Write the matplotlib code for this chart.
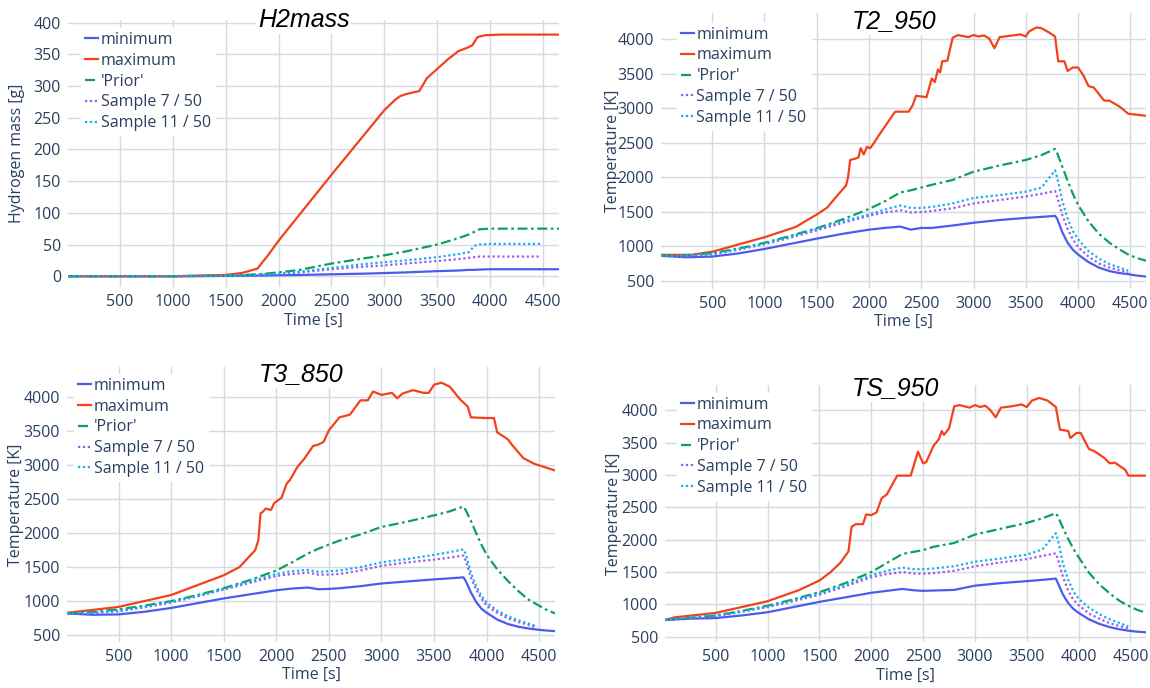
import matplotlib
matplotlib.use("Agg")
import matplotlib.pyplot as plt
import numpy as np

nan = np.nan

# shared time grid for the smooth series of the temperature panels
T_GRID = [10, 250, 500, 750, 1000, 1250, 1500, 1750, 2000, 2150, 2300, 2400, 2500, 2600, 2800, 3000,
          3250, 3500, 3650, 3780, 3800, 3850, 3900, 3950, 4000, 4100, 4200, 4300, 4400, 4480, 4560, 4650]

# --- H2mass ---
H_GRID = [10, 500, 1000, 1500, 1800, 2000, 2200, 2500, 2800, 3000, 3200, 3500, 3700, 3800, 3850, 3900,
          4000, 4200, 4480, 4650]
h2_min = [0, 0, 0, 0.5, 1, 1.5, 2, 3, 4, 5, 6, 8, 9, 10, 10, 10.5, 11, 11, 11, 11]
h2_prior = [0, 0, 0, 1, 3, 6, 10, 20, 28, 33, 39, 50, 60, 66, 70, 74, 75, 75, 75, 75]
h2_s11 = [0, 0, 0, 0.5, 2, 4, 7, 13, 19, 22, 25, 30, 35, 38, 48, 50, 51, 51, 51, nan]
h2_s7 = [0, 0, 0, 0.5, 2, 3, 6, 11, 15, 17, 20, 24, 27, 29, 30, 31, 31, 31, 31, nan]
h2_max_t = [10, 1000, 1500, 1650, 1800, 1900, 2000, 2500, 3000, 3100, 3150, 3200, 3330, 3400, 3500,
            3600, 3700, 3780, 3830, 3880, 3950, 4100, 4650]
h2_max = [0, 0, 2, 5, 12, 33, 56, 160, 262, 278, 284, 287, 292, 312, 327, 342, 355, 360, 364, 377, 380,
          381, 381]

# --- T2_950 ---
t2_min = [860, 840, 850, 895, 960, 1035, 1110, 1180, 1240, 1265, 1285, 1240, 1265, 1265, 1300, 1340,
          1380, 1410, 1425, 1440, 1400, 1200, 1050, 950, 880, 770, 690, 640, 610, 595, 575, 560]
t2_prior = [860, 870, 900, 965, 1050, 1150, 1260, 1390, 1540, 1650, 1780, 1810, 1850, 1890, 1960, 2080,
            2170, 2250, 2320, 2410, 2350, 2150, 1950, 1760, 1600, 1360, 1180, 1050, 950, 880, 830, 790]
t2_s11 = [860, 865, 890, 955, 1040, 1140, 1250, 1360, 1460, 1530, 1590, 1555, 1555, 1570, 1620, 1700,
          1740, 1790, 1850, 2100, 2000, 1650, 1400, 1220, 1100, 930, 820, 740, 690, 645, nan, nan]
t2_s7 = [860, 860, 880, 950, 1030, 1125, 1230, 1340, 1440, 1490, 1520, 1490, 1495, 1510, 1550, 1620,
         1670, 1720, 1760, 1800, 1720, 1450, 1250, 1100, 990, 850, 750, 690, 650, 615, nan, nan]
t2_max_t = [10, 300, 500, 1000, 1300, 1500, 1600, 1700, 1780, 1800, 1820, 1870, 1900, 1920, 1950, 1980,
            2010, 2040, 2100, 2200, 2250, 2380, 2420, 2450, 2550, 2600, 2630, 2660, 2680, 2700, 2750,
            2800, 2850, 2950, 3000, 3050, 3100, 3150, 3200, 3250, 3350, 3450, 3500, 3530, 3600, 3650,
            3720, 3780, 3810, 3870, 3900, 3950, 4000, 4050, 4100, 4150, 4250, 4300, 4400, 4480, 4650]
t2_max = [875, 875, 920, 1130, 1280, 1460, 1560, 1740, 1880, 2000, 2250, 2270, 2290, 2420, 2330, 2440,
          2420, 2480, 2620, 2840, 2950, 2950, 3050, 3180, 3160, 3430, 3380, 3560, 3520, 3680, 3690,
          4020, 4060, 4030, 4060, 4040, 4055, 4010, 3870, 4030, 4050, 4070, 4040, 4110, 4170, 4160,
          4100, 4040, 3680, 3680, 3540, 3590, 3590, 3480, 3320, 3300, 3110, 3110, 3020, 2920, 2890]

# --- T3_850 ---
t3_min = [820, 800, 805, 845, 900, 970, 1040, 1100, 1160, 1185, 1200, 1175, 1180, 1190, 1220, 1260,
          1290, 1320, 1335, 1350, 1300, 1130, 990, 890, 830, 730, 665, 625, 598, 582, 570, 560]
t3_prior = [820, 840, 880, 935, 1000, 1090, 1190, 1310, 1450, 1570, 1700, 1770, 1830, 1890, 1980, 2090,
            2170, 2260, 2320, 2390, 2340, 2180, 2000, 1830, 1680, 1470, 1300, 1150, 1020, 950, 880, 820]
t3_s11 = [820, 830, 860, 920, 990, 1080, 1180, 1290, 1400, 1440, 1460, 1430, 1440, 1450, 1500, 1570,
          1620, 1680, 1720, 1760, 1700, 1420, 1220, 1080, 980, 860, 780, 720, 670, 630, nan, nan]
t3_s7 = [820, 825, 850, 910, 980, 1070, 1170, 1270, 1370, 1400, 1420, 1390, 1390, 1400, 1450, 1520,
         1570, 1610, 1640, 1670, 1600, 1350, 1170, 1040, 930, 830, 750, 695, 650, 610, nan, nan]
t3_max_t = [10, 500, 1000, 1500, 1650, 1800, 1830, 1850, 1870, 1900, 1950, 1980, 2050, 2100, 2130, 2200,
            2270, 2350, 2400, 2450, 2500, 2600, 2700, 2800, 2870, 2920, 3000, 3100, 3150, 3200, 3300,
            3400, 3450, 3500, 3570, 3650, 3750, 3820, 3850, 4000, 4070, 4100, 4200, 4250, 4350, 4450, 4650]
t3_max = [828, 916, 1090, 1380, 1500, 1750, 1900, 2290, 2310, 2360, 2340, 2440, 2520, 2730, 2780, 2970,
          3100, 3280, 3300, 3340, 3510, 3700, 3740, 3950, 3950, 4080, 4030, 4060, 3980, 4050, 4100,
          4060, 4060, 4180, 4210, 4150, 3960, 3860, 3700, 3690, 3690, 3480, 3380, 3280, 3100, 3020, 2920]

# --- TS_950 ---
ts_min = [760, 780, 790, 830, 880, 960, 1040, 1110, 1180, 1210, 1240, 1220, 1210, 1215, 1225, 1290,
          1330, 1360, 1380, 1400, 1330, 1150, 1020, 930, 870, 770, 700, 650, 615, 595, 580, 570]
ts_prior = [760, 790, 830, 900, 980, 1080, 1190, 1330, 1500, 1640, 1780, 1810, 1840, 1890, 1950, 2080,
            2170, 2260, 2330, 2410, 2360, 2180, 2010, 1860, 1730, 1490, 1310, 1170, 1050, 980, 920, 870]
ts_s11 = [760, 800, 830, 895, 970, 1070, 1170, 1300, 1450, 1520, 1570, 1545, 1545, 1555, 1590, 1660,
          1710, 1770, 1850, 2100, 2000, 1620, 1380, 1200, 1090, 950, 850, 770, 710, 660, nan, nan]
ts_s7 = [760, 795, 820, 885, 960, 1050, 1150, 1280, 1420, 1470, 1500, 1480, 1475, 1485, 1520, 1590,
         1650, 1700, 1750, 1790, 1700, 1420, 1210, 1070, 990, 860, 780, 710, 665, 630, nan, nan]
ts_max_t = [10, 100, 500, 1000, 1300, 1500, 1600, 1700, 1780, 1810, 1850, 1920, 1950, 2000, 2050, 2100,
            2150, 2250, 2300, 2380, 2450, 2500, 2530, 2600, 2650, 2680, 2700, 2750, 2800, 2850, 2950,
            3000, 3050, 3100, 3150, 3200, 3250, 3350, 3450, 3500, 3550, 3620, 3700, 3780, 3820, 3900,
            3920, 3980, 4020, 4100, 4150, 4250, 4300, 4350, 4450, 4480, 4650]
ts_max = [760, 800, 870, 1050, 1220, 1370, 1490, 1640, 1820, 2200, 2240, 2240, 2390, 2380, 2420, 2640,
          2700, 2990, 2990, 2990, 3360, 3180, 3200, 3450, 3550, 3680, 3620, 3720, 4060, 4080, 4040,
          4080, 4050, 4070, 4000, 3890, 4040, 4060, 4090, 4050, 4150, 4190, 4150, 4050, 3700, 3680,
          3570, 3650, 3650, 3400, 3370, 3260, 3180, 3190, 3080, 2990, 2990]

LABELS = ["minimum", "maximum", "'Prior'", "Sample 7 / 50", "Sample 11 / 50"]
COLORS = {"min": "#4a5cf0", "max": "#f2421c", "prior": "#0e9f5e", "s7": "#a356f2", "s11": "#12b0f0"}
TEXT_COLOR = "#2a3f5f"
GRID_COLOR = "#d5d9e2"
FS = 11.5

W, H = 1150, 688


def px_axes(fig, left, right, top, bottom):
    return fig.add_axes([left / W, 1 - bottom / H, (right - left) / W, (bottom - top) / H])


def plot_panel(ax, title, title_y, grid_t, vmin, vprior, vs7, vs11, max_t, vmax,
               ylim, yticks, ylabel, leg_xy, ylab_x, xlab_y):
    ax.plot(grid_t, vmin, color=COLORS["min"], lw=1.6, label=LABELS[0], zorder=3)
    ax.plot(max_t, vmax, color=COLORS["max"], lw=1.6, label=LABELS[1], zorder=3)
    ax.plot(grid_t, vprior, color=COLORS["prior"], lw=1.6, label=LABELS[2],
            dashes=(4.5, 1.6, 1.2, 1.6), zorder=3)
    ax.plot(grid_t, vs7, color=COLORS["s7"], lw=1.6, label=LABELS[3], dashes=(1.0, 1.2), zorder=3)
    ax.plot(grid_t, vs11, color=COLORS["s11"], lw=1.6, label=LABELS[4], dashes=(1.0, 1.2), zorder=3)

    ax.set_xlim(10, 4650)
    ax.set_ylim(*ylim)
    ax.set_xticks([500, 1000, 1500, 2000, 2500, 3000, 3500, 4000, 4500])
    ax.set_yticks(yticks)
    ax.grid(True, color=GRID_COLOR, lw=1.0)
    ax.set_axisbelow(True)
    for s in ax.spines.values():
        s.set_visible(False)
    ax.tick_params(length=0, colors=TEXT_COLOR, labelsize=FS, pad=5)

    ax.set_xlabel("Time [s]", fontsize=FS, color=TEXT_COLOR)
    ax.set_ylabel(ylabel, fontsize=FS, color=TEXT_COLOR)
    ax.xaxis.set_label_coords(0.5, xlab_y)
    ax.yaxis.set_label_coords(ylab_x, 0.5)

    leg = ax.legend(loc="upper left", bbox_to_anchor=leg_xy, frameon=True, fontsize=FS,
                    handlelength=0.85, handletextpad=0.15, labelspacing=0.3,
                    borderpad=0.25, borderaxespad=0.0, fancybox=False)
    leg.get_frame().set_facecolor("white")
    leg.get_frame().set_edgecolor("white")
    leg.get_frame().set_alpha(1.0)
    leg.set_zorder(5)
    for txt in leg.get_texts():
        txt.set_color(TEXT_COLOR)

    ax.text(0.48, title_y, title, transform=ax.transAxes, ha="center", va="center",
            fontsize=18, style="italic", family="Liberation Sans", color="black", zorder=6,
            bbox=dict(facecolor="white", edgecolor="none", pad=1.5))


plt.rcParams["font.family"] = ["Open Sans", "DejaVu Sans"]

fig = plt.figure(figsize=(W / 100, H / 100), dpi=100)
fig.patch.set_facecolor("white")

ax_tl = px_axes(fig, 68, 559, 20, 287)
plot_panel(ax_tl, "H2mass", 1.0, H_GRID, h2_min, h2_prior, h2_s7, h2_s11, h2_max_t, h2_max,
           (-17, 404), list(range(0, 401, 50)), "Hydrogen mass [g]",
           (0.026, 0.97), -0.087, -0.095)

temp_ticks = list(range(500, 4001, 500))

ax_tr = px_axes(fig, 661, 1146, 13, 289)
plot_panel(ax_tr, "T2_950", 0.97, T_GRID, t2_min, t2_prior, t2_s7, t2_s11, t2_max_t, t2_max,
           (380, 4380), temp_ticks, "Temperature [K]",
           (0.032, 0.965), -0.083, -0.09)

ax_bl = px_axes(fig, 67, 555, 367, 642)
plot_panel(ax_bl, "T3_850", 0.975, T_GRID, t3_min, t3_prior, t3_s7, t3_s11, t3_max_t, t3_max,
           (400, 4440), temp_ticks, "Temperature [K]",
           (0.014, 0.975), -0.088, -0.09)

ax_br = px_axes(fig, 665, 1146, 385, 642)
plot_panel(ax_br, "TS_950", 0.99, T_GRID, ts_min, ts_prior, ts_s7, ts_s11, ts_max_t, ts_max,
           (420, 4390), temp_ticks, "Temperature [K]",
           (0.024, 0.97), -0.09, -0.10)

fig.savefig("out.png", dpi=100, facecolor="white")
